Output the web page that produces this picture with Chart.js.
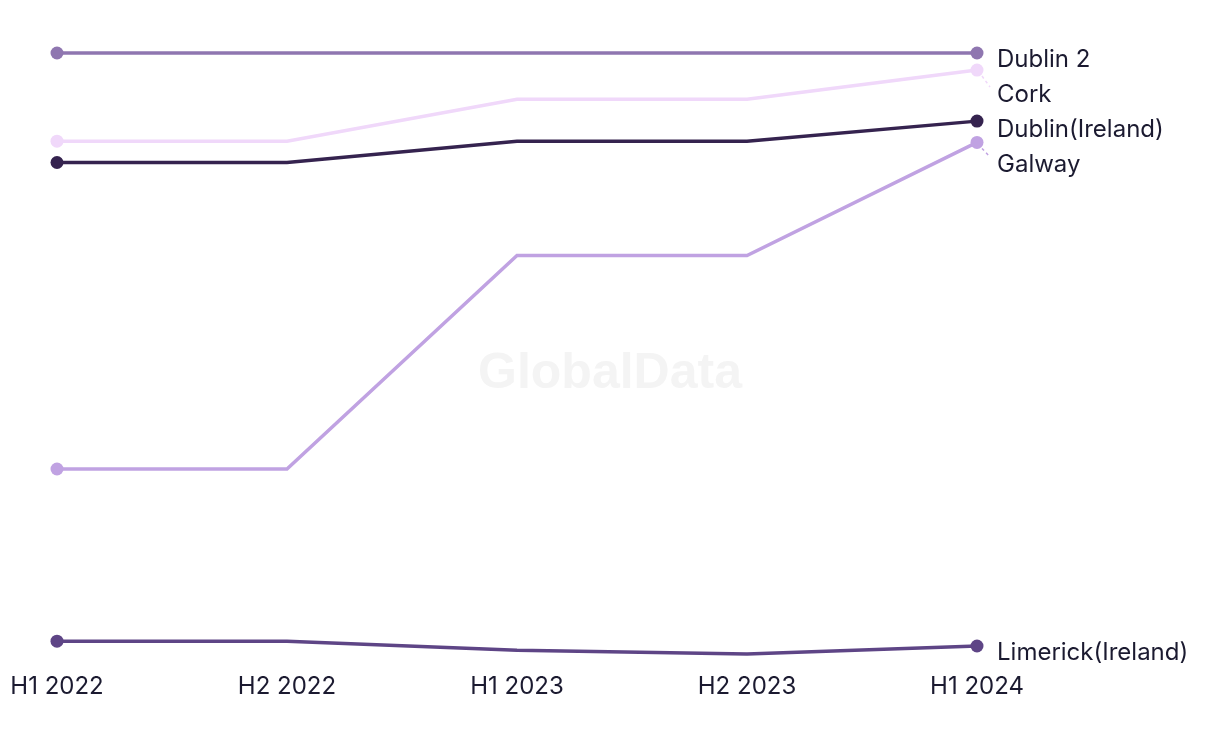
<!DOCTYPE html>
<html>
<head>
<meta charset="utf-8">
<script src="https://cdn.jsdelivr.net/npm/chart.js@4"></script>
<style>
  html, body { margin: 0; padding: 0; background: #ffffff; }
  #wrap { width: 1220px; height: 744px; position: relative; }
</style>
</head>
<body>
<div id="wrap"><canvas id="c" width="1220" height="744"></canvas></div>
<script>
const categories = ['H1 2022', 'H2 2022', 'H1 2023', 'H2 2023', 'H1 2024'];
const seriesNames = ['Dublin 2', 'Cork', 'Dublin(Ireland)', 'Galway', 'Limerick(Ireland)'];
const dublin2 = [100, 100, 100, 100, 100];
const cork = [85.5, 85.5, 92.4, 92.4, 97.2];
const dublinIreland = [82.0, 82.0, 85.5, 85.5, 88.8];
const galway = [31.6, 31.6, 66.7, 66.7, 85.3];
const limerick = [3.3, 3.3, 1.8, 1.2, 2.5];
const colors = ['#8f76b0', '#f0d8fa', '#35234f', '#c0a2e2', '#5e4586'];

const FONT = 'Inter, "Liberation Sans", sans-serif';
const TEXT = '#1b1a30';

const watermark = {
  id: 'watermark',
  beforeDatasetsDraw(chart) {
    const ctx = chart.ctx;
    ctx.save();
    ctx.font = 'bold 50px "Liberation Sans", Arial, sans-serif';
    ctx.fillStyle = '#f4f4f4';
    ctx.textAlign = 'center';
    ctx.textBaseline = 'middle';
    ctx.fillText('GlobalData', 610, 374);
    ctx.restore();
  }
};

const endLabels = {
  id: 'endLabels',
  afterDatasetsDraw(chart) {
    const ctx = chart.ctx;
    const items = chart.data.datasets.map((ds, i) => {
      const meta = chart.getDatasetMeta(i);
      const pt = meta.data[meta.data.length - 1];
      return { name: ds.label, color: ds.borderColor, x: pt.x, y: pt.y };
    }).sort((a, b) => a.y - b.y);
    let prev = -Infinity;
    ctx.save();
    ctx.font = '24px ' + FONT;
    ctx.textBaseline = 'middle';
    ctx.textAlign = 'left';
    items.forEach(it => {
      const desired = it.y + 7;
      const ly = Math.max(desired, prev + 35);
      prev = ly;
      if (ly - desired > 4) {
        ctx.save();
        ctx.strokeStyle = it.color;
        ctx.lineWidth = 1.5;
        ctx.setLineDash([3, 3]);
        ctx.beginPath();
        ctx.moveTo(it.x + 5, it.y + 6);
        ctx.lineTo(it.x + 13, ly - 8);
        ctx.stroke();
        ctx.restore();
      }
      ctx.fillStyle = TEXT;
      ctx.fillText(it.name, it.x + 20, ly);
    });
    ctx.restore();
  }
};

const seriesData = [dublin2, cork, dublinIreland, galway, limerick];
const endPointsOnly = (r) => (ctx) => (ctx.dataIndex === 0 || ctx.dataIndex === categories.length - 1) ? r : 0;
new Chart(document.getElementById('c'), {
  type: 'line',
  data: {
    labels: categories,
    datasets: seriesData.map((d, i) => ({
      label: seriesNames[i],
      data: d,
      borderColor: colors[i],
      backgroundColor: colors[i],
      pointBackgroundColor: colors[i],
      pointBorderWidth: 0,
      pointRadius: endPointsOnly(6.5),
      pointHoverRadius: endPointsOnly(6.5),
      borderWidth: 3.5,
      tension: 0,
      clip: false
    }))
  },
  options: {
    responsive: false,
    animation: false,
    layout: { padding: { left: 57, right: 243, top: 53, bottom: 40 } },
    plugins: { legend: { display: false }, tooltip: { enabled: false } },
    scales: {
      x: {
        offset: false,
        grid: { display: false },
        border: { display: false },
        ticks: { color: TEXT, font: { family: FONT, size: 24 }, padding: 3, maxRotation: 0 }
      },
      y: {
        display: false,
        min: 0,
        max: 100
      }
    }
  },
  plugins: [watermark, endLabels]
});
</script>
</body>
</html>
